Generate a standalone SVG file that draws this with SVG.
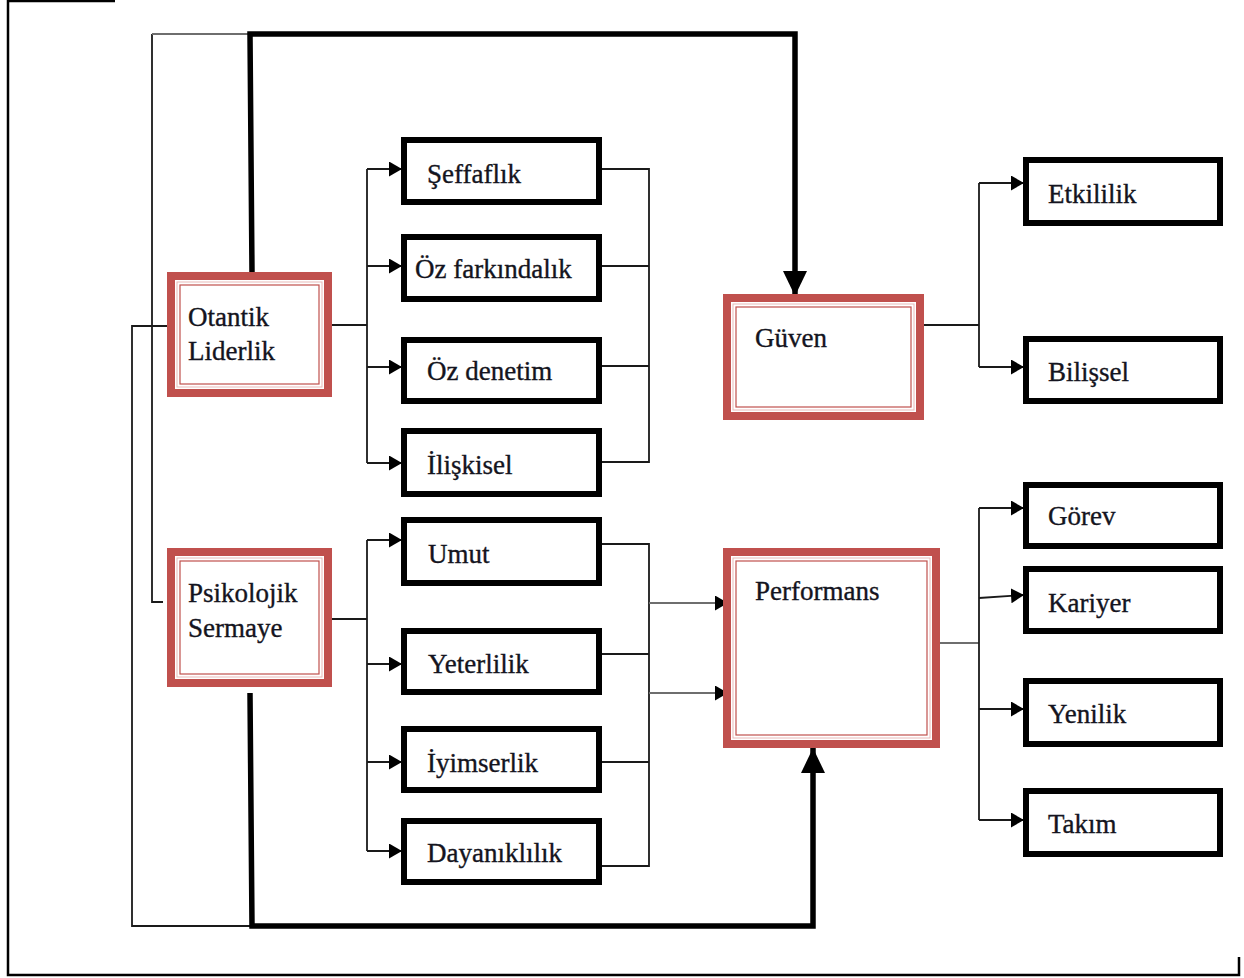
<svg xmlns="http://www.w3.org/2000/svg" width="1244" height="978" viewBox="0 0 1244 978">
<defs>
<style>
.lbl{font-family:"Liberation Serif","Times New Roman",serif;font-size:27px;fill:#141420;stroke:#141420;stroke-width:0.35}
.box{fill:#fff;stroke:#000;stroke-width:6}
.rb{fill:#fff;stroke:#c0504d;stroke-width:8}
.rp{fill:none;stroke:#e8b9b8;stroke-width:1}
.ri{fill:none;stroke:#c0504d;stroke-width:1.2}
.ln{fill:none;stroke:#1a1a1a;stroke-width:1.8}
.gl{fill:none;stroke:#6e6e6e;stroke-width:2}
.thick{fill:none;stroke:#000;stroke-width:5.5}
</style>
<marker id="ah" markerUnits="userSpaceOnUse" markerWidth="13" markerHeight="15" refX="12" refY="7.5" orient="auto">
<path d="M0,0 L13,7.5 L0,15 Z" fill="#000"/>
</marker>
<marker id="big" markerUnits="userSpaceOnUse" markerWidth="25" markerHeight="24" refX="25" refY="12" orient="auto">
<path d="M0,0 L25,12 L0,24 Z" fill="#000"/>
</marker>
</defs>
<rect width="1244" height="978" fill="#fff"/>
<g id="frame" fill="none" stroke="#000" stroke-width="2.5">
<path d="M115,1 L8,1 L8,975 L1239,975 L1239,957"/>
</g>

<g id="connectors">
<path class="ln" d="M163,602 L152,602 L152,34"/>
<path class="gl" d="M152,34 L252,34"/>
<path class="ln" d="M167,326 L132,326 L132,926 L255,926"/>
<path class="thick" d="M252,272 L250,34 L795,34 L795,296" marker-end="url(#big)"/>
<path class="thick" d="M250,693 L252,926 L813,926 L813,748" marker-end="url(#big)"/>
<path class="ln" d="M332,325 L367,325"/>
<path class="ln" d="M367,169 L367,463"/>
<path class="ln" d="M367,169 L401,169" marker-end="url(#ah)"/>
<path class="ln" d="M367,266 L401,266" marker-end="url(#ah)"/>
<path class="ln" d="M367,367 L401,367" marker-end="url(#ah)"/>
<path class="ln" d="M367,463 L401,463" marker-end="url(#ah)"/>
<path class="ln" d="M602,169 L649,169 L649,462 L602,462"/>
<path class="ln" d="M602,266 L649,266"/>
<path class="ln" d="M602,366 L649,366"/>
<path class="ln" d="M332,619 L367,619"/>
<path class="ln" d="M367,540 L367,851"/>
<path class="ln" d="M367,540 L401,540" marker-end="url(#ah)"/>
<path class="ln" d="M367,664 L401,664" marker-end="url(#ah)"/>
<path class="ln" d="M367,762 L401,762" marker-end="url(#ah)"/>
<path class="ln" d="M367,851 L401,851" marker-end="url(#ah)"/>
<path class="ln" d="M602,544 L649,544 L649,866 L602,866"/>
<path class="ln" d="M602,654 L649,654"/>
<path class="ln" d="M602,762 L649,762"/>
<path class="gl" d="M649,603 L727,603" marker-end="url(#ah)"/>
<path class="gl" d="M649,693 L727,693" marker-end="url(#ah)"/>
<path class="ln" d="M924,325 L979,325"/>
<path class="ln" d="M979,183 L979,367"/>
<path class="ln" d="M979,183 L1023,183" marker-end="url(#ah)"/>
<path class="ln" d="M979,367 L1023,367" marker-end="url(#ah)"/>
<path class="gl" d="M940,643 L979,643"/>
<path class="ln" d="M979,508 L979,820"/>
<path class="ln" d="M979,508 L1023,508" marker-end="url(#ah)"/>
<path class="ln" d="M979,598 L1023,595" marker-end="url(#ah)"/>
<path class="ln" d="M979,709 L1023,709" marker-end="url(#ah)"/>
<path class="ln" d="M979,820 L1023,820" marker-end="url(#ah)"/>
</g>

<g id="otantik">
<rect class="rb" x="171" y="276" width="157" height="117"/>
<rect class="rp" x="177" y="282" width="145" height="105"/>
<rect class="ri" x="180" y="285" width="139" height="99"/>
<text class="lbl" x="188" y="326">Otantik</text>
<text class="lbl" x="188" y="360">Liderlik</text>
</g>
<g id="psikolojik">
<rect class="rb" x="171" y="552" width="157" height="131"/>
<rect class="rp" x="177" y="558" width="145" height="119"/>
<rect class="ri" x="180" y="561" width="139" height="113"/>
<text class="lbl" x="188" y="602">Psikolojik</text>
<text class="lbl" x="188" y="637">Sermaye</text>
</g>
<g id="guven">
<rect class="rb" x="727" y="298" width="193" height="118"/>
<rect class="rp" x="733" y="304" width="181" height="106"/>
<rect class="ri" x="736" y="307" width="175" height="100"/>
<text class="lbl" x="755" y="347">Güven</text>
</g>
<g id="performans">
<rect class="rb" x="727" y="552" width="209" height="192"/>
<rect class="rp" x="733" y="558" width="197" height="180"/>
<rect class="ri" x="736" y="561" width="191" height="174"/>
<text class="lbl" x="755" y="600">Performans</text>
</g>

<g id="seffaflik"><rect class="box" x="404" y="140" width="195" height="62"/><text class="lbl" x="427" y="183">Şeffaflık</text></g>
<g id="ozfarkindalik"><rect class="box" x="404" y="237" width="195" height="62"/><text class="lbl" x="415" y="278">Öz farkındalık</text></g>
<g id="ozdenetim"><rect class="box" x="404" y="340" width="195" height="61"/><text class="lbl" x="427" y="380">Öz denetim</text></g>
<g id="iliskisel"><rect class="box" x="404" y="431" width="195" height="63"/><text class="lbl" x="427" y="474">İlişkisel</text></g>
<g id="umut"><rect class="box" x="404" y="520" width="195" height="63"/><text class="lbl" x="428" y="563">Umut</text></g>
<g id="yeterlilik"><rect class="box" x="404" y="631" width="195" height="61"/><text class="lbl" x="428" y="673">Yeterlilik</text></g>
<g id="iyimserlik"><rect class="box" x="404" y="729" width="195" height="61"/><text class="lbl" x="427" y="772">İyimserlik</text></g>
<g id="dayaniklilik"><rect class="box" x="404" y="821" width="195" height="61"/><text class="lbl" x="427" y="862">Dayanıklılık</text></g>

<g id="etkililik"><rect class="box" x="1026" y="160" width="194" height="63"/><text class="lbl" x="1048" y="203">Etkililik</text></g>
<g id="bilissel"><rect class="box" x="1026" y="339" width="194" height="62"/><text class="lbl" x="1048" y="381">Bilişsel</text></g>
<g id="gorev"><rect class="box" x="1026" y="485" width="194" height="61"/><text class="lbl" x="1048" y="525">Görev</text></g>
<g id="kariyer"><rect class="box" x="1026" y="569" width="194" height="62"/><text class="lbl" x="1048" y="612">Kariyer</text></g>
<g id="yenilik"><rect class="box" x="1026" y="681" width="194" height="63"/><text class="lbl" x="1048" y="723">Yenilik</text></g>
<g id="takim"><rect class="box" x="1026" y="791" width="194" height="63"/><text class="lbl" x="1048" y="833">Takım</text></g>
</svg>
